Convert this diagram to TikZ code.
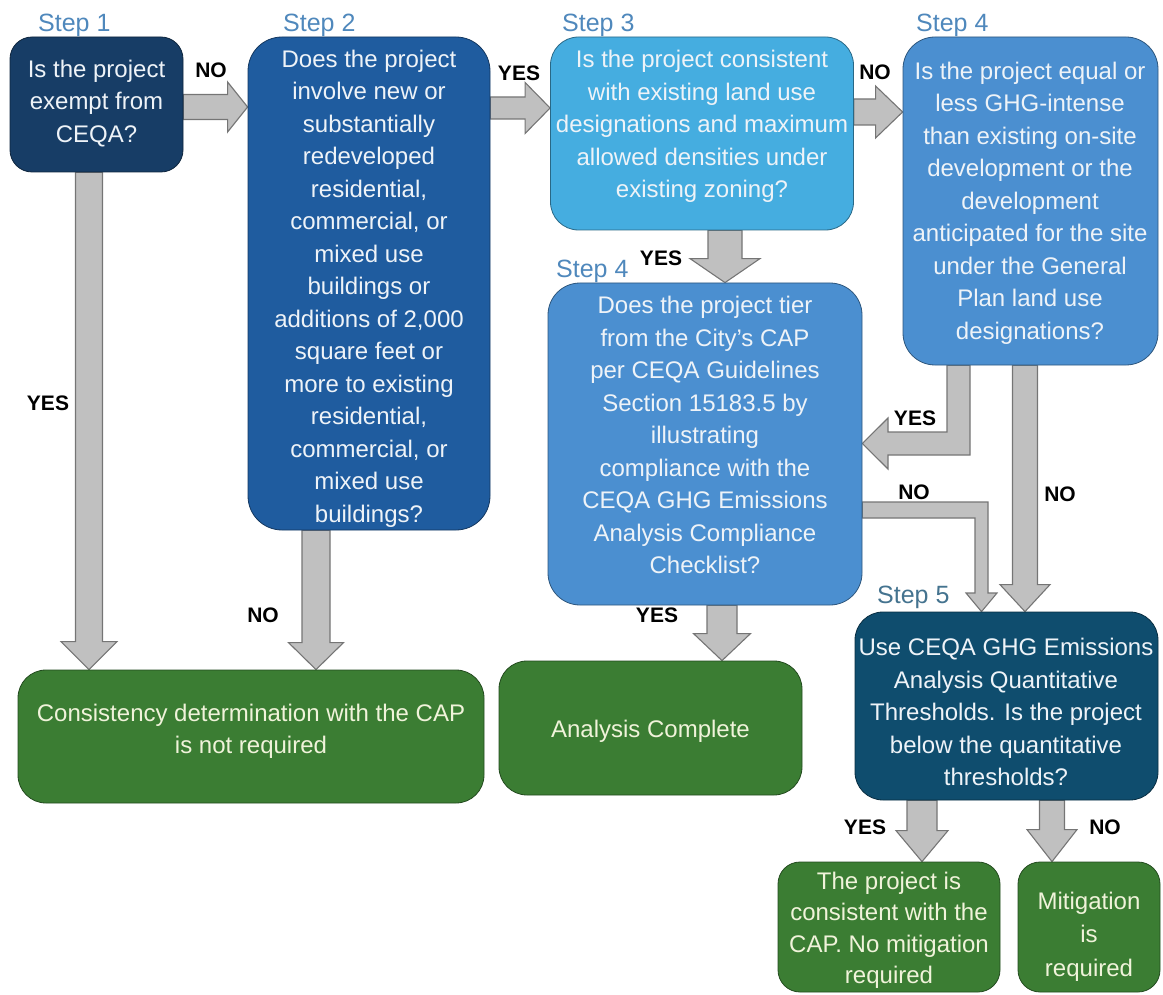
\documentclass[tikz,border=0pt]{standalone}
\usepackage{fontspec}
\setmainfont{Liberation Sans}
\usetikzlibrary{calc}
\pgfdeclarelayer{background}
\pgfsetlayers{background,main}
\definecolor{cA}{HTML}{173D66}
\definecolor{cB}{HTML}{1F5C9F}
\definecolor{cC}{HTML}{45ADE0}
\definecolor{cD}{HTML}{4B8FD0}
\definecolor{cE}{HTML}{0F4D6E}
\definecolor{cG}{HTML}{3B7D33}
\definecolor{txtc}{HTML}{EEF3F8}
\definecolor{gtxt}{HTML}{F0F3DA}
\definecolor{stepc}{HTML}{4F88BC}
\definecolor{stepe}{HTML}{44738F}
\definecolor{agray}{HTML}{C0C0C0}
\definecolor{aedge}{HTML}{757575}
% horizontal block arrow: start, end, half shaft, half head, head length
\newcommand\hblock[5]{\draw[barrow] ($(#1)+(0,-#3)$) -- ($(#2)+(-#5,-#3)$) -- ($(#2)+(-#5,-#4)$) -- (#2) -- ($(#2)+(-#5,#4)$) -- ($(#2)+(-#5,#3)$) -- ($(#1)+(0,#3)$) -- cycle;}
% vertical (downward) block arrow
\newcommand\vblock[5]{\draw[barrow] ($(#1)+(-#3,0)$) -- ($(#2)+(-#3,-#5)$) -- ($(#2)+(-#4,-#5)$) -- (#2) -- ($(#2)+(#4,-#5)$) -- ($(#2)+(#3,-#5)$) -- ($(#1)+(#3,0)$) -- cycle;}
\begin{document}
\begin{tikzpicture}[x=1pt,y=-1pt,
  box/.style={draw=#1!60!black, fill=#1, line width=0.8pt, rounded corners=28pt, inner sep=0pt},
  btext/.style={align=center, text=txtc, font=\fontsize{24}{32.5}\selectfont, inner sep=0pt},
  gtext/.style={align=center, text=gtxt, font=\fontsize{24}{31.5}\selectfont, inner sep=0pt},
  steplabel/.style={anchor=base west, text=stepc, font=\fontsize{25}{30}\selectfont, inner sep=0pt},
  yn/.style={font=\bfseries\fontsize{21}{24}\selectfont, text=black, inner sep=0pt},
  barrow/.style={fill=agray, draw=aedge, line width=1.1pt, line join=miter}]
\useasboundingbox (0,0) rectangle (1163,995);

% ---------- boxes ----------
\node[box=cA, rounded corners=22pt, minimum width=173pt, minimum height=135pt] (s1) at (96.5,104.5) {};
\node[box=cB, rounded corners=34pt, minimum width=242pt, minimum height=493pt] (s2) at (369,283.5) {};
\node[box=cC, minimum width=303pt, minimum height=193pt] (s3) at (702,133.5) {};
\node[box=cD, rounded corners=32pt, minimum width=255pt, minimum height=328pt] (s4r) at (1030.5,201) {};
\node[box=cD, rounded corners=32pt, minimum width=314pt, minimum height=322pt] (s4m) at (705,444) {};
\node[box=cE, minimum width=303pt, minimum height=188pt] (s5) at (1006.5,706) {};
\node[box=cG, minimum width=466pt, minimum height=133pt] (g1) at (251,736.5) {};
\node[box=cG, minimum width=303pt, minimum height=134pt] (g2) at (650.5,728) {};
\node[box=cG, rounded corners=22pt, minimum width=222pt, minimum height=130pt] (g3) at (889,927) {};
\node[box=cG, rounded corners=22pt, minimum width=142pt, minimum height=130pt] (g4) at (1089,927) {};

% ---------- box texts ----------
\node[btext] (t1) at (96.5,103.5) {Is the project\\exempt from\\CEQA?};
\node[btext] (t2) at (369,288.5) {Does the project\\involve new or\\substantially\\redeveloped\\residential,\\commercial, or\\mixed use\\buildings or\\additions of 2,000\\square feet or\\more to existing\\residential,\\commercial, or\\mixed use\\buildings?};
\node[btext] (t3) at (702,126.5) {Is the project consistent\\with existing land use\\designations and maximum\\allowed densities under\\existing zoning?};
\node[btext] (t4r) at (1030,203) {Is the project equal or\\less GHG-intense\\than existing on-site\\development or the\\development\\anticipated for the site\\under the General\\Plan land use\\designations?};
\node[btext] (t4m) at (705,435) {Does the project tier\\from the City’s CAP\\per CEQA Guidelines\\Section 15183.5 by\\illustrating\\compliance with the\\CEQA GHG Emissions\\Analysis Compliance\\Checklist?};
\node[btext] (t5) at (1006,712) {Use CEQA GHG Emissions\\Analysis Quantitative\\Thresholds. Is the project\\below the quantitative\\thresholds?};
\node[gtext] (tg1) at (251,731.5) {Consistency determination with the CAP\\is not required};
\node[gtext] (tg2) at (650.5,731) {Analysis Complete};
\node[gtext] (tg3) at (889,930.5) {The project is\\consistent with the\\CAP. No mitigation\\required};
\node[gtext, font=\fontsize{24}{33.5}\selectfont] (tg4) at (1089,936.5) {Mitigation\\is\\required};

% ---------- step labels ----------
\node[steplabel] (l1) at (38,32) {Step 1};
\node[steplabel] (l2) at (283,32) {Step 2};
\node[steplabel] (l3) at (562,32) {Step 3};
\node[steplabel] (l4r) at (916,32) {Step 4};
\node[steplabel] (l4m) at (556,278) {Step 4};
\node[steplabel, text=stepe] (l5) at (877,603) {Step 5};

% ---------- arrows ----------
\coordinate (a1s) at (s1.east |- 0,107);   \coordinate (a1e) at (s2.west |- 0,107);
\coordinate (a2s) at (s2.east |- 0,108);   \coordinate (a2e) at (s3.west |- 0,108);
\coordinate (a3s) at (s3.east |- 0,112);   \coordinate (a3e) at (s4r.west |- 0,112);
\coordinate (a4s) at (s3.south -| 725,0);  \coordinate (a4e) at (s4m.north -| 725,0);
\coordinate (a5s) at (s1.south -| 89,0);   \coordinate (a5e) at (g1.north -| 89,0);
\coordinate (a6s) at (s2.south -| 316,0);  \coordinate (a6e) at (g1.north -| 316,0);
\coordinate (a7s) at (s4m.south -| 722,0); \coordinate (a7e) at (g2.north -| 722,0);
\coordinate (a9s) at (s4r.south -| 1025,0); \coordinate (a9e) at (s5.north -| 1025,0);
\coordinate (a11s) at (s5.south -| 922,0); \coordinate (a11e) at (g3.north -| 922,0);
\coordinate (a12s) at (s5.south -| 1052,0); \coordinate (a12e) at (g4.north -| 1052,0);
\begin{pgfonlayer}{background}
\hblock{a1s}{a1e}{12.5}{25}{20}
\hblock{a2s}{a2e}{11}{25.5}{25}
\hblock{a3s}{a3e}{13}{26}{27}
\vblock{a4s}{a4e}{17}{35}{24}
\vblock{a5s}{a5e}{13.5}{28}{28}
\vblock{a6s}{a6e}{14}{27.5}{27}
\vblock{a7s}{a7e}{15}{28.5}{27}
\vblock{a9s}{a9e}{12.5}{25}{27}
\vblock{a11s}{a11e}{15}{26}{31}
\vblock{a12s}{a12e}{12.5}{25}{32}
% bent YES arrow: step 4 (right) -> step 4 (middle)
\draw[barrow] (s4r.south -| 947,0) |- (888,432) -- (888,418) -- (s4m.east |- 0,443.5) -- (888,469) -- (888,455) -| (s4r.south -| 970,0) -- cycle;
% bent NO arrow: step 4 (middle) -> step 5
\draw[barrow] (s4m.east |- 0,502) -| (988,593) -- (997,593) -- (s5.north -| 981.5,0) -- (966,593) -- (975,593) |- (s4m.east |- 0,518) -- cycle;
\end{pgfonlayer}

% ---------- YES / NO labels ----------
\node[yn] (n1) at (211,70) {NO};
\node[yn] (y1) at (48,403) {YES};
\node[yn] (y2) at (519,73) {YES};
\node[yn] (n3) at (875,72) {NO};
\node[yn] (y4) at (661,258) {YES};
\node[yn] (n2) at (263,615) {NO};
\node[yn] (y4m) at (657,615) {YES};
\node[yn] (y4r) at (915,418) {YES};
\node[yn] (n4m) at (914,492) {NO};
\node[yn] (n4r) at (1060,494) {NO};
\node[yn] (y5) at (865,827) {YES};
\node[yn] (n5) at (1105,827) {NO};
\end{tikzpicture}
\end{document}
